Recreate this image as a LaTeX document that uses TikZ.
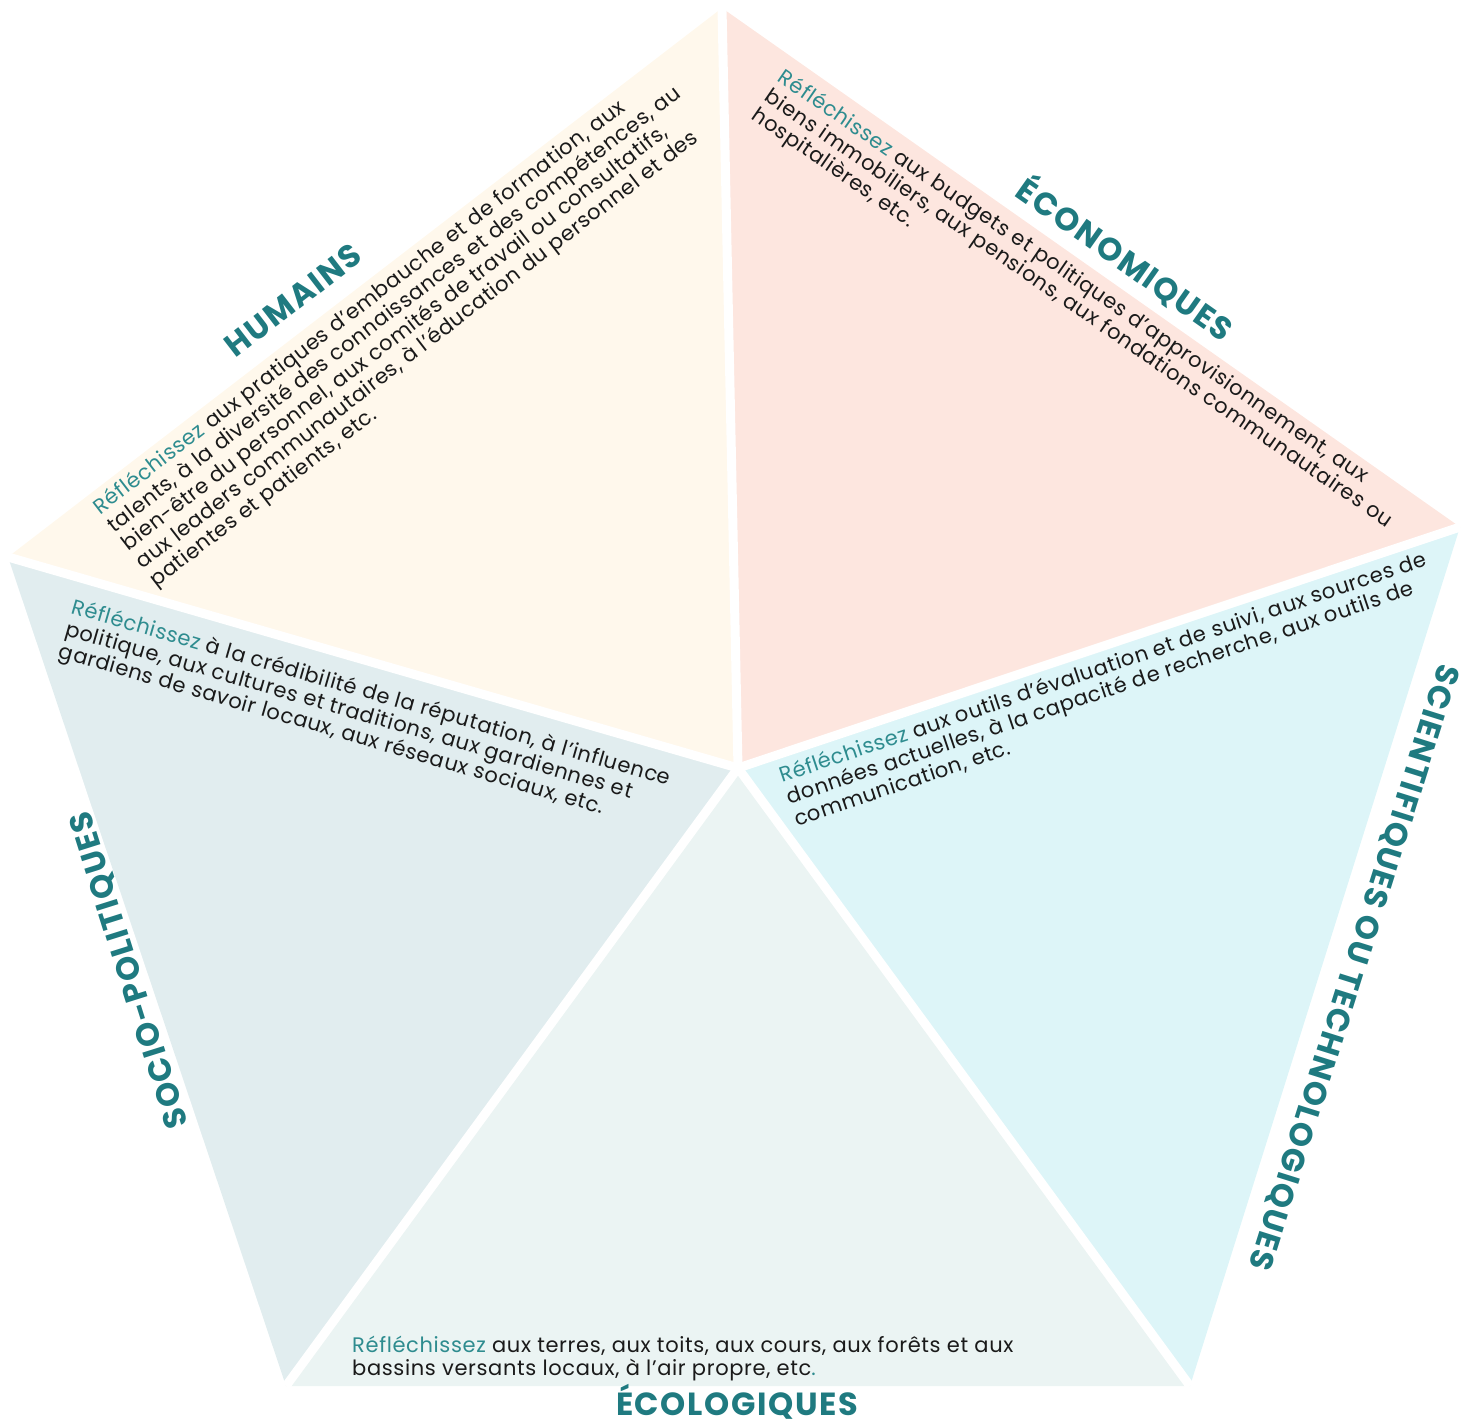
\documentclass[tikz,border=0pt]{standalone}
\usepackage{fontspec}
\setmainfont{Poppins}[LetterSpace=3]
\newfontfamily\headfont{Poppins}[LetterSpace=5]
\definecolor{humfill}{HTML}{FFF8EC}
\definecolor{econfill}{HTML}{FDE6DF}
\definecolor{scifill}{HTML}{DDF5F8}
\definecolor{ecolfill}{HTML}{EBF4F3}
\definecolor{socfill}{HTML}{E1EDEF}
\definecolor{headteal}{HTML}{1F7A80}
\definecolor{thinkteal}{HTML}{2E8C8F}
\definecolor{bodyink}{HTML}{1A1A1A}
\tikzstyle{heading}=[font=\headfont\bfseries\fontsize{32}{32}\selectfont, text=headteal, inner sep=0pt]
\tikzstyle{body}=[font=\fontsize{21}{23}\selectfont, text=bodyink, align=left, anchor=north west, inner sep=0pt]
\tikzstyle{gap}=[white, line width=9pt]
\newcommand{\think}{\textcolor{thinkteal}{Réfléchissez}}

\begin{document}
\begin{tikzpicture}[x=1pt, y=-1pt]
          \useasboundingbox (0,0) rectangle (1470,1425);
          \coordinate (ctr) at (738,768);
          \coordinate (top) at (722,8);
          \coordinate (rgt) at (1460,527);
          \coordinate (brt) at (1190,1386);
          \coordinate (blt) at (286,1386);
          \coordinate (lft) at (8,557);
          \fill[humfill] (ctr) -- (lft) -- (top) -- cycle;
          \fill[econfill] (ctr) -- (top) -- (rgt) -- cycle;
          \fill[scifill] (ctr) -- (rgt) -- (brt) -- cycle;
          \fill[ecolfill] (ctr) -- (brt) -- (blt) -- cycle;
          \fill[socfill] (ctr) -- (blt) -- (lft) -- cycle;
          \foreach \v in {top,rgt,brt,blt,lft}
            \draw[gap] (ctr) -- (\v);
          \node[heading, rotate=37.6] (humains) at (293,300) {HUMAINS};
          \node[heading, rotate=-35.2] (econ) at (1126,258) {ÉCONOMIQUES};
          \node[heading, rotate=107.5] (socio) at (130,970) {SOCIO-POLITIQUES};
          \node[heading, rotate=-107.5] (sci) at (1353,967) {SCIENTIFIQUES OU TECHNOLOGIQUES};
          \node[heading, anchor=base] (ecol) at (737,1415) {ÉCOLOGIQUES};
          \node[body, rotate=37.6] (humtext) at (90,502)
            {\think{} aux pratiques d’embauche et de formation, aux\\
             talents, à la diversité des connaissances et des compétences, au\\
             bien-être du personnel, aux comités de travail ou consultatifs,\\
             aux leaders communautaires, à l’éducation du personnel et des\\
             patientes et patients, etc.};
          \node[body, rotate=-34.5] (econtext) at (786,67)
            {\think{} aux budgets et politiques d’approvisionnement, aux\\
             biens immobiliers, aux pensions, aux fondations communautaires ou\\
             hospitalières, etc.};
          \node[body, rotate=-16.1] (soctext) at (75,597)
            {\think{} à la crédibilité de la réputation, à l’influence\\
             politique, aux cultures et traditions, aux gardiennes et\\
             gardiens de savoir locaux, aux réseaux sociaux, etc.};
          \node[body, rotate=18.6] (scitext) at (777,767)
            {\think{} aux outils d’évaluation et de suivi, aux sources de\\
             données actuelles, à la capacité de recherche, aux outils de\\
             communication, etc.};
          \node[body] (ecoltext) at (352,1336)
            {\think{} aux terres, aux toits, aux cours, aux forêts et aux\\
             bassins versants locaux, à l’air propre, etc\textcolor{thinkteal}{.}};
        \end{tikzpicture}
\end{document}
